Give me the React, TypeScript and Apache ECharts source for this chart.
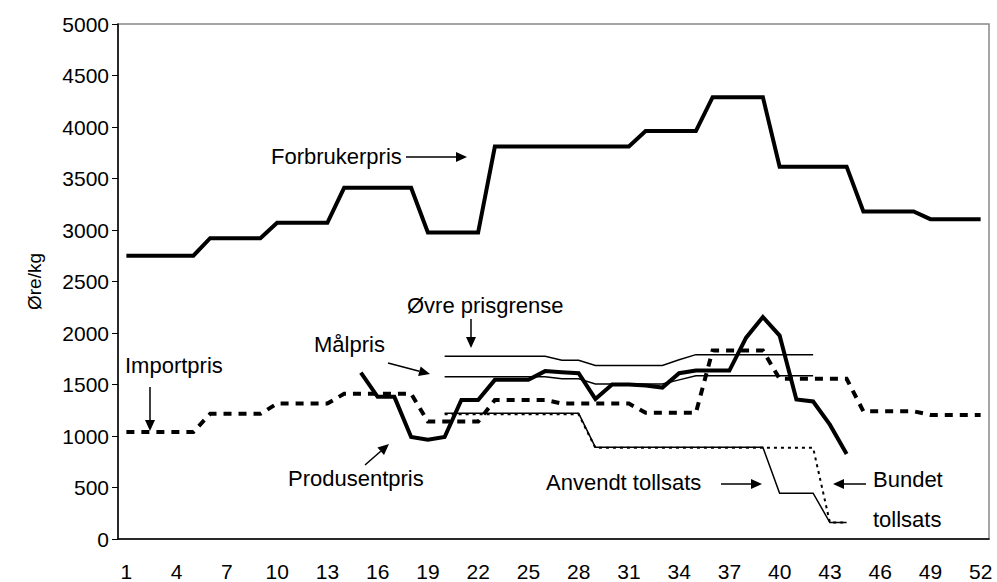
import React, { useEffect, useRef } from "react";
import * as echarts from "echarts";

const weeks: string[] = Array.from({ length: 52 }, (_, i) => String(i + 1));

const forbrukerpris: number[] = [
  2750, 2750, 2750, 2750, 2750,
  2920, 2920, 2920, 2920,
  3070, 3070, 3070, 3070,
  3410, 3410, 3410, 3410, 3410,
  2975, 2975, 2975, 2975,
  3810, 3810, 3810, 3810, 3810, 3810, 3810, 3810, 3810,
  3960, 3960, 3960, 3960,
  4290, 4290, 4290, 4290,
  3615, 3615, 3615, 3615, 3615,
  3180, 3180, 3180, 3180,
  3105, 3105, 3105, 3105,
];

const importpris: number[] = [
  1040, 1040, 1040, 1040, 1040,
  1215, 1215, 1215, 1215,
  1315, 1315, 1315, 1315,
  1410, 1410, 1410, 1410, 1410,
  1140, 1140, 1140, 1140,
  1350, 1350, 1350, 1350,
  1315, 1315, 1315, 1315, 1315,
  1225, 1225, 1225, 1225,
  1830, 1830, 1830, 1830,
  1555, 1555, 1555, 1555, 1555,
  1240, 1240, 1240, 1240,
  1205, 1205, 1205, 1205,
];

const N = null;
const produsentpris: (number | null)[] = [
  N, N, N, N, N, N, N, N, N, N, N, N, N, N,
  1615, 1380, 1380, 990, 965, 990, 1350, 1350, 1545, 1545,
  1545, 1630, 1620, 1610, 1360, 1500, 1500, 1490, 1470, 1610,
  1635, 1635, 1635, 1955, 2155, 1975, 1355, 1335, 1110, 825,
  N, N, N, N, N, N, N, N,
];

const ovrePrisgrense: (number | null)[] = [
  N, N, N, N, N, N, N, N, N, N, N, N, N, N, N, N, N, N, N,
  1775, 1775, 1775, 1775, 1775, 1775, 1775,
  1735, 1735,
  1685, 1685, 1685, 1685, 1685,
  1740,
  1790, 1790, 1790, 1790, 1790, 1790, 1790, 1790,
  N, N, N, N, N, N, N, N, N, N,
];

const malpris: (number | null)[] = [
  N, N, N, N, N, N, N, N, N, N, N, N, N, N, N, N, N, N, N,
  1575, 1575, 1575, 1575, 1575, 1575, 1575,
  1555, 1555,
  1505, 1505, 1505, 1505, 1505,
  1545,
  1585, 1585, 1585, 1585, 1585, 1585, 1585, 1585,
  N, N, N, N, N, N, N, N, N, N,
];

const anvendtTollsats: (number | null)[] = [
  N, N, N, N, N, N, N, N, N, N, N, N, N, N, N, N, N, N, N,
  1220, 1220, 1220, 1220, 1220, 1220, 1220, 1220, 1220,
  890, 890, 890, 890, 890, 890, 890, 890, 890, 890, 890,
  445, 445, 445,
  160, 160,
  N, N, N, N, N, N, N, N,
];

const bundetTollsats: (number | null)[] = [
  N, N, N, N, N, N, N, N, N, N, N, N, N, N, N, N, N, N, N,
  1210, 1210, 1210, 1210, 1210, 1210, 1210, 1210, 1210,
  885, 885, 885, 885, 885, 885, 885, 885, 885, 885, 885, 885, 885, 885,
  160, 160,
  N, N, N, N, N, N, N, N,
];

const FONT = "'Liberation Sans', Arial, sans-serif";

function arrow(x1: number, y1: number, x2: number, y2: number): any {
  const ang = Math.atan2(y2 - y1, x2 - x1);
  const L = 11;
  const W = 5;
  const bx = x2 - L * Math.cos(ang);
  const by = y2 - L * Math.sin(ang);
  const px = -Math.sin(ang) * W;
  const py = Math.cos(ang) * W;
  return {
    type: "group",
    children: [
      {
        type: "line",
        shape: { x1, y1, x2: bx, y2: by },
        style: { stroke: "#000", lineWidth: 1.5 },
      },
      {
        type: "polygon",
        shape: { points: [[x2, y2], [bx + px, by + py], [bx - px, by - py]] },
        style: { fill: "#000" },
      },
    ],
  };
}

function label(text: string, x: number, y: number): any {
  return {
    type: "text",
    x,
    y,
    style: {
      text,
      fill: "#000",
      font: `22px ${FONT}`,
      verticalAlign: "middle",
      align: "left",
    },
  };
}

export default function App() {
  const ref = useRef<HTMLDivElement>(null);
  useEffect(() => {
    document.body.style.margin = "0";
    if (!ref.current) return;
    const chart = echarts.init(ref.current, undefined, { renderer: "svg" });
    const mk = (name: string, data: any[], type: any = "solid", width = 4) => ({
      name,
      type: "line",
      data,
      symbol: "none",
      connectNulls: false,
      lineStyle: { color: "#000", width, type, cap: "butt", join: "miter" },
      z: 3,
    });
    chart.setOption({
      animation: false,
      backgroundColor: "#fff",
      grid: {
        left: 118,
        right: 8,
        top: 24,
        bottom: 42,
        show: true,
        borderColor: "#888",
        borderWidth: 1.5,
        backgroundColor: "transparent",
      },
      xAxis: {
        type: "category",
        data: weeks,
        boundaryGap: true,
        axisLine: { lineStyle: { color: "#000", width: 1.5 } },
        axisTick: { interval: 0, length: 6, lineStyle: { color: "#000" } },
        axisLabel: {
          interval: 2,
          color: "#000",
          fontSize: 21,
          fontFamily: FONT,
          margin: 22,
        },
        splitLine: { show: false },
      },
      yAxis: {
        type: "value",
        min: 0,
        max: 5000,
        interval: 500,
        name: "Øre/kg",
        nameLocation: "middle",
        nameRotate: 90,
        nameGap: 74,
        nameTextStyle: { color: "#000", fontSize: 19, fontFamily: FONT },
        axisLine: { show: true, lineStyle: { color: "#000", width: 1.5 } },
        axisTick: { show: true, length: 6, lineStyle: { color: "#000" } },
        axisLabel: {
          color: "#000",
          fontSize: 21,
          fontFamily: FONT,
          margin: 9,
          formatter: (v: number) => String(v),
        },
        splitLine: { show: false },
      },
      series: [
        mk("Forbrukerpris", forbrukerpris),
        mk("Importpris", importpris, [8, 7], 4),
        mk("Produsentpris", produsentpris),
        mk("Øvre prisgrense", ovrePrisgrense, "solid", 1.5),
        mk("Målpris", malpris, "solid", 1.5),
        mk("Anvendt tollsats", anvendtTollsats, "solid", 1.5),
        mk("Bundet tollsats", bundetTollsats, [3, 4], 2),
      ],
      graphic: [
        label("Forbrukerpris", 271, 156),
        arrow(406, 157, 467, 157),
        label("Øvre prisgrense", 407, 305),
        arrow(471, 319, 471, 348),
        label("Målpris", 314, 344),
        arrow(388, 363, 430, 374),
        label("Importpris", 125, 365),
        arrow(150, 387, 150, 431),
        label("Produsentpris", 288, 478),
        arrow(365, 465, 389, 444),
        label("Anvendt tollsats", 546, 482),
        arrow(721, 484, 762, 484),
        label("Bundet", 873, 479),
        label("tollsats", 873, 519),
        arrow(866, 484, 833, 484),
      ],
    });
    return () => chart.dispose();
  }, []);
  return <div ref={ref} style={{ width: 997, height: 582 }} />;
}
